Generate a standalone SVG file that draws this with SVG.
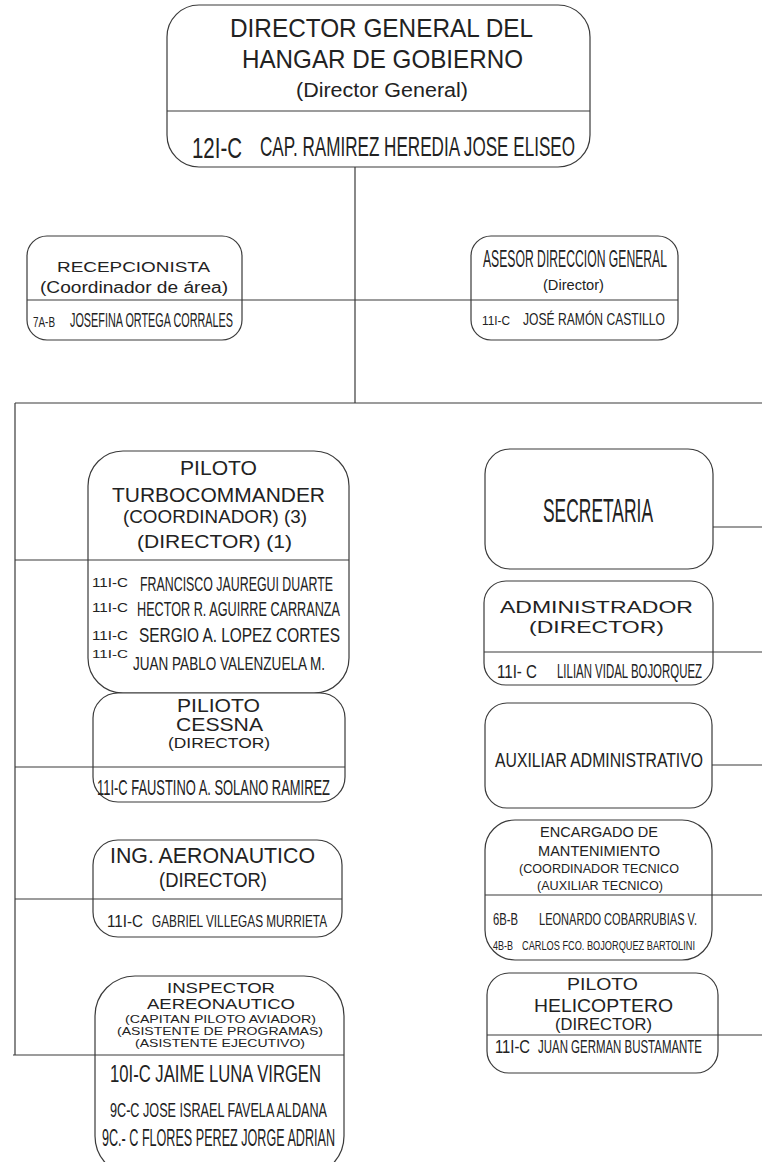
<svg xmlns="http://www.w3.org/2000/svg" width="762" height="1162" viewBox="0 0 762 1162">
<style>
.box{fill:#fff;stroke:#3a3a3a;stroke-width:1.2}
.div{stroke:#3a3a3a;stroke-width:1.2}
.con{stroke:#3a3a3a;stroke-width:1.2;fill:none}
text{font-family:"Liberation Sans",Arial,sans-serif;fill:#222}
</style>
<rect width="762" height="1162" fill="#fff"/>
<g id="connectors">
<line class="con" x1="355" y1="167" x2="355" y2="403"/>
<line class="con" x1="242" y1="300" x2="471" y2="300"/>
<line class="con" x1="15" y1="403" x2="762" y2="403"/>
<line class="con" x1="15" y1="403" x2="15" y2="1055"/>
<line class="con" x1="15" y1="560" x2="88" y2="560"/>
<line class="con" x1="15" y1="767" x2="93" y2="767"/>
<line class="con" x1="15" y1="899" x2="93" y2="899"/>
<line class="con" x1="13" y1="1055" x2="95" y2="1055"/>
<line class="con" x1="713" y1="527" x2="762" y2="527"/>
<line class="con" x1="713" y1="652" x2="762" y2="652"/>
<line class="con" x1="712" y1="765" x2="762" y2="765"/>
<line class="con" x1="712" y1="895" x2="762" y2="895"/>
<line class="con" x1="718" y1="1035" x2="762" y2="1035"/>
</g>
<g id="director-general">
<rect class="box" x="167" y="5" width="423" height="162" rx="32"/>
<line class="div" x1="167" y1="111" x2="590" y2="111"/>
<text x="230" y="37" font-size="26" textLength="303" lengthAdjust="spacingAndGlyphs">DIRECTOR GENERAL DEL</text>
<text x="242" y="68" font-size="26" textLength="281" lengthAdjust="spacingAndGlyphs">HANGAR DE GOBIERNO</text>
<text x="296" y="97" font-size="20" textLength="172" lengthAdjust="spacingAndGlyphs">(Director General)</text>
<text x="192" y="158" font-size="30" textLength="50" lengthAdjust="spacingAndGlyphs">12I-C</text>
<text x="260" y="156" font-size="28" textLength="315" lengthAdjust="spacingAndGlyphs">CAP. RAMIREZ HEREDIA JOSE ELISEO</text>
</g>
<g id="recepcionista">
<rect class="box" x="27" y="236" width="215" height="104" rx="20"/>
<line class="div" x1="27" y1="300" x2="242" y2="300"/>
<text x="57" y="272" font-size="15" textLength="153" lengthAdjust="spacingAndGlyphs">RECEPCIONISTA</text>
<text x="40" y="293" font-size="16" textLength="188" lengthAdjust="spacingAndGlyphs">(Coordinador de área)</text>
<text x="33" y="327" font-size="14" textLength="22" lengthAdjust="spacingAndGlyphs">7A-B</text>
<text x="70" y="327" font-size="21" textLength="163" lengthAdjust="spacingAndGlyphs">JOSEFINA ORTEGA CORRALES</text>
</g>
<g id="asesor">
<rect class="box" x="471" y="236" width="207" height="104" rx="20"/>
<line class="div" x1="471" y1="300" x2="678" y2="300"/>
<text x="483" y="267" font-size="24" textLength="184" lengthAdjust="spacingAndGlyphs">ASESOR DIRECCION GENERAL</text>
<text x="543" y="290" font-size="14" textLength="61" lengthAdjust="spacingAndGlyphs">(Director)</text>
<text x="482" y="325" font-size="13" textLength="28" lengthAdjust="spacingAndGlyphs">11I-C</text>
<text x="523" y="325" font-size="17" textLength="142" lengthAdjust="spacingAndGlyphs">JOSÉ RAMÓN CASTILLO</text>
</g>
<g id="piloto-turbocommander">
<rect class="box" x="88" y="451" width="261" height="242" rx="35"/>
<line class="div" x1="88" y1="560" x2="349" y2="560"/>
<text x="180" y="475" font-size="21" textLength="77" lengthAdjust="spacingAndGlyphs">PILOTO</text>
<text x="112" y="502" font-size="21" textLength="213" lengthAdjust="spacingAndGlyphs">TURBOCOMMANDER</text>
<text x="123" y="523" font-size="19" textLength="184" lengthAdjust="spacingAndGlyphs">(COORDINADOR) (3)</text>
<text x="137" y="548" font-size="19" textLength="155" lengthAdjust="spacingAndGlyphs">(DIRECTOR) (1)</text>
<text x="92" y="587" font-size="12" textLength="36" lengthAdjust="spacingAndGlyphs">11I-C</text>
<text x="140" y="591" font-size="21" textLength="193" lengthAdjust="spacingAndGlyphs">FRANCISCO JAUREGUI DUARTE</text>
<text x="92" y="612" font-size="12" textLength="36" lengthAdjust="spacingAndGlyphs">11I-C</text>
<text x="137" y="616" font-size="21" textLength="203" lengthAdjust="spacingAndGlyphs">HECTOR R. AGUIRRE CARRANZA</text>
<text x="92" y="640" font-size="12" textLength="36" lengthAdjust="spacingAndGlyphs">11I-C</text>
<text x="139" y="642" font-size="21" textLength="201" lengthAdjust="spacingAndGlyphs">SERGIO A. LOPEZ CORTES</text>
<text x="92" y="658" font-size="11" textLength="36" lengthAdjust="spacingAndGlyphs">11I-C</text>
<text x="133" y="670" font-size="19" textLength="192" lengthAdjust="spacingAndGlyphs">JUAN PABLO VALENZUELA  M.</text>
</g>
<g id="piloto-cessna">
<rect class="box" x="93" y="693" width="252" height="109" rx="25"/>
<line class="div" x1="93" y1="767" x2="345" y2="767"/>
<text x="177" y="712" font-size="19" textLength="83" lengthAdjust="spacingAndGlyphs">PILIOTO</text>
<text x="176" y="731" font-size="18" textLength="87" lengthAdjust="spacingAndGlyphs">CESSNA</text>
<text x="168" y="748" font-size="15" textLength="102" lengthAdjust="spacingAndGlyphs">(DIRECTOR)</text>
<text x="97" y="795" font-size="22" textLength="233" lengthAdjust="spacingAndGlyphs">11I-C FAUSTINO A. SOLANO RAMIREZ</text>
</g>
<g id="ing-aeronautico">
<rect class="box" x="93" y="840" width="249" height="97" rx="25"/>
<line class="div" x1="93" y1="899" x2="342" y2="899"/>
<text x="110" y="863" font-size="22" textLength="205" lengthAdjust="spacingAndGlyphs">ING. AERONAUTICO</text>
<text x="159" y="887" font-size="20" textLength="108" lengthAdjust="spacingAndGlyphs">(DIRECTOR)</text>
<text x="107" y="927" font-size="17" textLength="36" lengthAdjust="spacingAndGlyphs">11I-C</text>
<text x="152" y="927" font-size="16" textLength="175" lengthAdjust="spacingAndGlyphs">GABRIEL VILLEGAS MURRIETA</text>
</g>
<g id="inspector-aeronautico">
<rect class="box" x="95" y="976" width="249" height="200" rx="40"/>
<line class="div" x1="95" y1="1055" x2="344" y2="1055"/>
<text x="167" y="993" font-size="15" textLength="108" lengthAdjust="spacingAndGlyphs">INSPECTOR</text>
<text x="147" y="1009" font-size="15" textLength="148" lengthAdjust="spacingAndGlyphs">AEREONAUTICO</text>
<text x="125" y="1023" font-size="11" textLength="191" lengthAdjust="spacingAndGlyphs">(CAPITAN PILOTO AVIADOR)</text>
<text x="117" y="1035" font-size="11" textLength="206" lengthAdjust="spacingAndGlyphs">(ASISTENTE DE PROGRAMAS)</text>
<text x="135" y="1047" font-size="11" textLength="170" lengthAdjust="spacingAndGlyphs">(ASISTENTE EJECUTIVO)</text>
<text x="110" y="1082" font-size="23" textLength="211" lengthAdjust="spacingAndGlyphs">10I-C  JAIME LUNA VIRGEN</text>
<text x="110" y="1117" font-size="21" textLength="217" lengthAdjust="spacingAndGlyphs">9C-C JOSE ISRAEL FAVELA ALDANA</text>
<text x="102" y="1146" font-size="23" textLength="233" lengthAdjust="spacingAndGlyphs">9C.- C FLORES PEREZ JORGE ADRIAN</text>
</g>
<g id="secretaria">
<rect class="box" x="485" y="449" width="228" height="120" rx="25"/>
<text x="543" y="522" font-size="33" textLength="110" lengthAdjust="spacingAndGlyphs">SECRETARIA</text>
</g>
<g id="administrador">
<rect class="box" x="484" y="581" width="229" height="104" rx="22"/>
<line class="div" x1="484" y1="652" x2="713" y2="652"/>
<text x="500" y="613" font-size="17" textLength="193" lengthAdjust="spacingAndGlyphs">ADMINISTRADOR</text>
<text x="529" y="633" font-size="17" textLength="135" lengthAdjust="spacingAndGlyphs">(DIRECTOR)</text>
<text x="497" y="678" font-size="18" textLength="40" lengthAdjust="spacingAndGlyphs">11I- C</text>
<text x="557" y="678" font-size="21" textLength="145" lengthAdjust="spacingAndGlyphs">LILIAN VIDAL BOJORQUEZ</text>
</g>
<g id="auxiliar-administrativo">
<rect class="box" x="485" y="703" width="227" height="105" rx="22"/>
<text x="495" y="767" font-size="20" textLength="208" lengthAdjust="spacingAndGlyphs">AUXILIAR ADMINISTRATIVO</text>
</g>
<g id="encargado-mantenimiento">
<rect class="box" x="485" y="820" width="227" height="140" rx="30"/>
<line class="div" x1="485" y1="895" x2="712" y2="895"/>
<text x="540" y="837" font-size="15" textLength="118" lengthAdjust="spacingAndGlyphs">ENCARGADO DE</text>
<text x="538" y="856" font-size="15" textLength="122" lengthAdjust="spacingAndGlyphs">MANTENIMIENTO</text>
<text x="519" y="873" font-size="13" textLength="160" lengthAdjust="spacingAndGlyphs">(COORDINADOR TECNICO</text>
<text x="537" y="890" font-size="13" textLength="126" lengthAdjust="spacingAndGlyphs">(AUXILIAR TECNICO)</text>
<text x="493" y="925" font-size="16" textLength="25" lengthAdjust="spacingAndGlyphs">6B-B</text>
<text x="539" y="925" font-size="16" textLength="158" lengthAdjust="spacingAndGlyphs">LEONARDO COBARRUBIAS V.</text>
<text x="493" y="950" font-size="12.5" textLength="20" lengthAdjust="spacingAndGlyphs">4B-B</text>
<text x="522" y="950" font-size="12.5" textLength="173" lengthAdjust="spacingAndGlyphs">CARLOS FCO. BOJORQUEZ BARTOLINI</text>
</g>
<g id="piloto-helicoptero">
<rect class="box" x="487" y="973" width="231" height="100" rx="22"/>
<line class="div" x1="487" y1="1035" x2="718" y2="1035"/>
<text x="567" y="990" font-size="16" textLength="71" lengthAdjust="spacingAndGlyphs">PILOTO</text>
<text x="534" y="1012" font-size="18" textLength="139" lengthAdjust="spacingAndGlyphs">HELICOPTERO</text>
<text x="555" y="1030" font-size="17" textLength="97" lengthAdjust="spacingAndGlyphs">(DIRECTOR)</text>
<text x="495" y="1053" font-size="18" textLength="35" lengthAdjust="spacingAndGlyphs">11I-C</text>
<text x="538" y="1053" font-size="18" textLength="164" lengthAdjust="spacingAndGlyphs">JUAN GERMAN BUSTAMANTE</text>
</g>
</svg>
